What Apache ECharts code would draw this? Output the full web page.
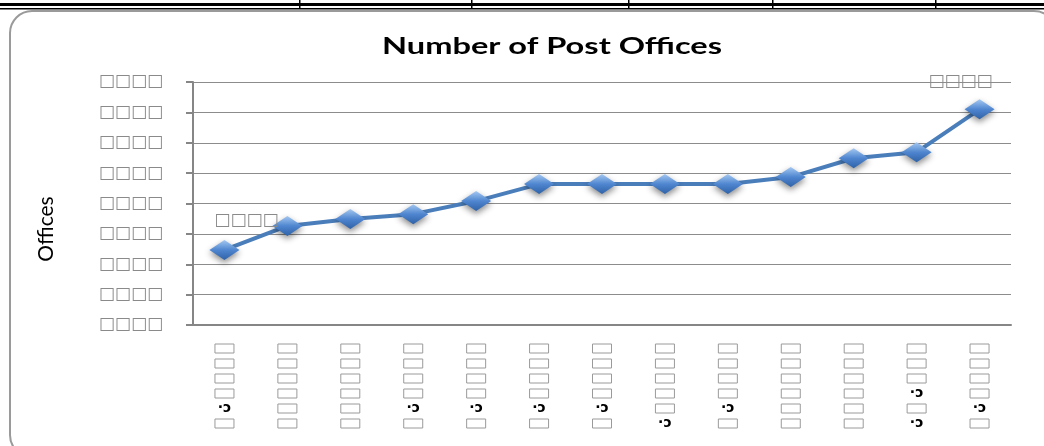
<!DOCTYPE html>
<html>
<head>
<meta charset="utf-8">
<script src="https://cdn.jsdelivr.net/npm/echarts@6/dist/echarts.min.js"></script>
<style>
  html, body { margin: 0; padding: 0; background: #fff; }
  #chart { width: 1044px; height: 446px; }
</style>
</head>
<body>
<div id="chart"></div>
<script>
// the source text did not render, so only the glyph boxes are readable
const categories = ['c1', 'c2', 'c3', 'c4', 'c5', 'c6', 'c7', 'c8', 'c9', 'c10', 'c11', 'c12', 'c13']
const xLabels = [
  ['b', 'b', 'b', 'b', 'g', 'b'],
  ['b', 'b', 'b', 'b', 'b', 'b'],
  ['b', 'b', 'b', 'b', 'b', 'b'],
  ['b', 'b', 'b', 'b', 'g', 'b'],
  ['b', 'b', 'b', 'b', 'g', 'b'],
  ['b', 'b', 'b', 'b', 'g', 'b'],
  ['b', 'b', 'b', 'b', 'g', 'b'],
  ['b', 'b', 'b', 'b', 'b', 'g'],
  ['b', 'b', 'b', 'b', 'g', 'b'],
  ['b', 'b', 'b', 'b', 'b', 'b'],
  ['b', 'b', 'b', 'b', 'b', 'b'],
  ['b', 'b', 'b', 'g', 'b', 'g'],
  ['b', 'b', 'b', 'b', 'g', 'b']
]
const offices = [2470, 3260, 3490, 3650, 4080, 4640, 4640, 4640, 4640, 4870, 5490, 5690, 7100]
const yTickLabels = ['□□□□', '□□□□', '□□□□', '□□□□', '□□□□', '□□□□', '□□□□', '□□□□', '□□□□']
const firstLabel = '□□□□'
const lastLabel = '□□□□'

const chart = echarts.init(document.getElementById('chart'))

// the title in the picture is stretched sideways, so measure and scale it
const titleText = 'Number of Post Offices'
const titleFont = 'bold 23px Lato'
const measure = document.createElement('canvas').getContext('2d')
measure.font = titleFont
const titleScale = 340 / measure.measureText(titleText).width

chart.setOption({
  animation: false,
  grid: {
    left: 193,
    right: 33,
    top: 82,
    bottom: 121
  },
  graphic: [
    {
      type: 'rect',
      shape: { x: 10, y: 11, width: 1046, height: 446, r: 22 },
      style: { fill: 'none', stroke: '#9a9a9a', lineWidth: 2 },
      silent: true,
      z: -1
    },
    {
      type: 'rect',
      shape: { x: 0, y: 3, width: 1044, height: 3 },
      style: { fill: '#000' },
      silent: true
    },
    {
      type: 'rect',
      shape: { x: 0, y: 8, width: 1044, height: 1.5 },
      style: { fill: '#000' },
      silent: true
    },
    ...[299, 471, 628, 772, 935].map((x) => ({
      type: 'rect',
      shape: { x: x, y: 0, width: 1.5, height: 9 },
      style: { fill: '#000' },
      silent: true
    })),
    {
      type: 'text',
      x: 552,
      y: 47,
      scaleX: titleScale,
      style: {
        text: titleText,
        font: titleFont,
        fill: '#000',
        align: 'center',
        verticalAlign: 'middle'
      },
      silent: true
    },
    {
      type: 'text',
      x: 46,
      y: 229,
      rotation: Math.PI / 2,
      style: {
        text: 'Offices',
        font: '21px Lato',
        fill: '#000',
        align: 'center',
        verticalAlign: 'middle'
      },
      silent: true
    }
  ],
  xAxis: [
    {
      type: 'category',
      data: categories,
      boundaryGap: true,
      axisLine: { lineStyle: { color: '#868686', width: 2 } },
      axisTick: { length: 7, lineStyle: { color: '#868686', width: 2 } },
      axisLabel: {
        interval: 0,
        margin: 16,
        formatter: (value, index) =>
          xLabels[index].map((s) => (s === 'g' ? '{g|·ɔ}' : '{b| }')).join('\n'),
        rich: {
          b: {
            width: 19,
            height: 9,
            lineHeight: 15,
            borderColor: '#9a9a9a',
            borderWidth: 1,
            fontSize: 8
          },
          g: {
            fontFamily: 'DejaVu Sans',
            fontSize: 14,
            fontWeight: 'bold',
            lineHeight: 15,
            color: '#000'
          }
        }
      }
    },
    {
      type: 'category',
      data: categories,
      position: 'bottom',
      boundaryGap: true,
      axisLine: { show: false },
      axisTick: { inside: true, length: 7, lineStyle: { color: '#868686', width: 2 } },
      axisLabel: { show: false }
    }
  ],
  yAxis: {
    type: 'value',
    min: 0,
    max: 8000,
    interval: 1000,
    axisLine: { show: true, lineStyle: { color: '#868686', width: 2 } },
    axisTick: { show: true, length: 7, lineStyle: { color: '#868686', width: 2 } },
    axisLabel: {
      margin: 30,
      formatter: (value) => yTickLabels[value / 1000],
      fontFamily: 'DejaVu Sans',
      fontSize: 17,
      color: '#8a8a8a'
    },
    splitLine: { lineStyle: { color: '#8c8c8c', width: 1.2 } }
  },
  series: [
    {
      type: 'line',
      data: offices.map((v, i) => {
        if (i === 0) {
          return { value: v, label: { show: true, formatter: firstLabel, offset: [22, -6] } }
        }
        if (i === offices.length - 1) {
          return { value: v, label: { show: true, formatter: lastLabel, offset: [-19, -4] } }
        }
        return v
      }),
      symbol: 'diamond',
      symbolSize: [30, 20],
      lineStyle: { color: '#4a7ebb', width: 4 },
      itemStyle: {
        color: new echarts.graphic.LinearGradient(0, 0, 0, 1, [
          { offset: 0, color: '#a4c8f2' },
          { offset: 0.5, color: '#4f86cf' },
          { offset: 1, color: '#2f62a8' }
        ]),
        shadowBlur: 6,
        shadowColor: 'rgba(0, 0, 0, 0.45)',
        shadowOffsetY: 3
      },
      label: {
        position: 'top',
        fontFamily: 'DejaVu Sans',
        fontSize: 17,
        color: '#8a8a8a'
      }
    }
  ]
})
</script>
</body>
</html>
